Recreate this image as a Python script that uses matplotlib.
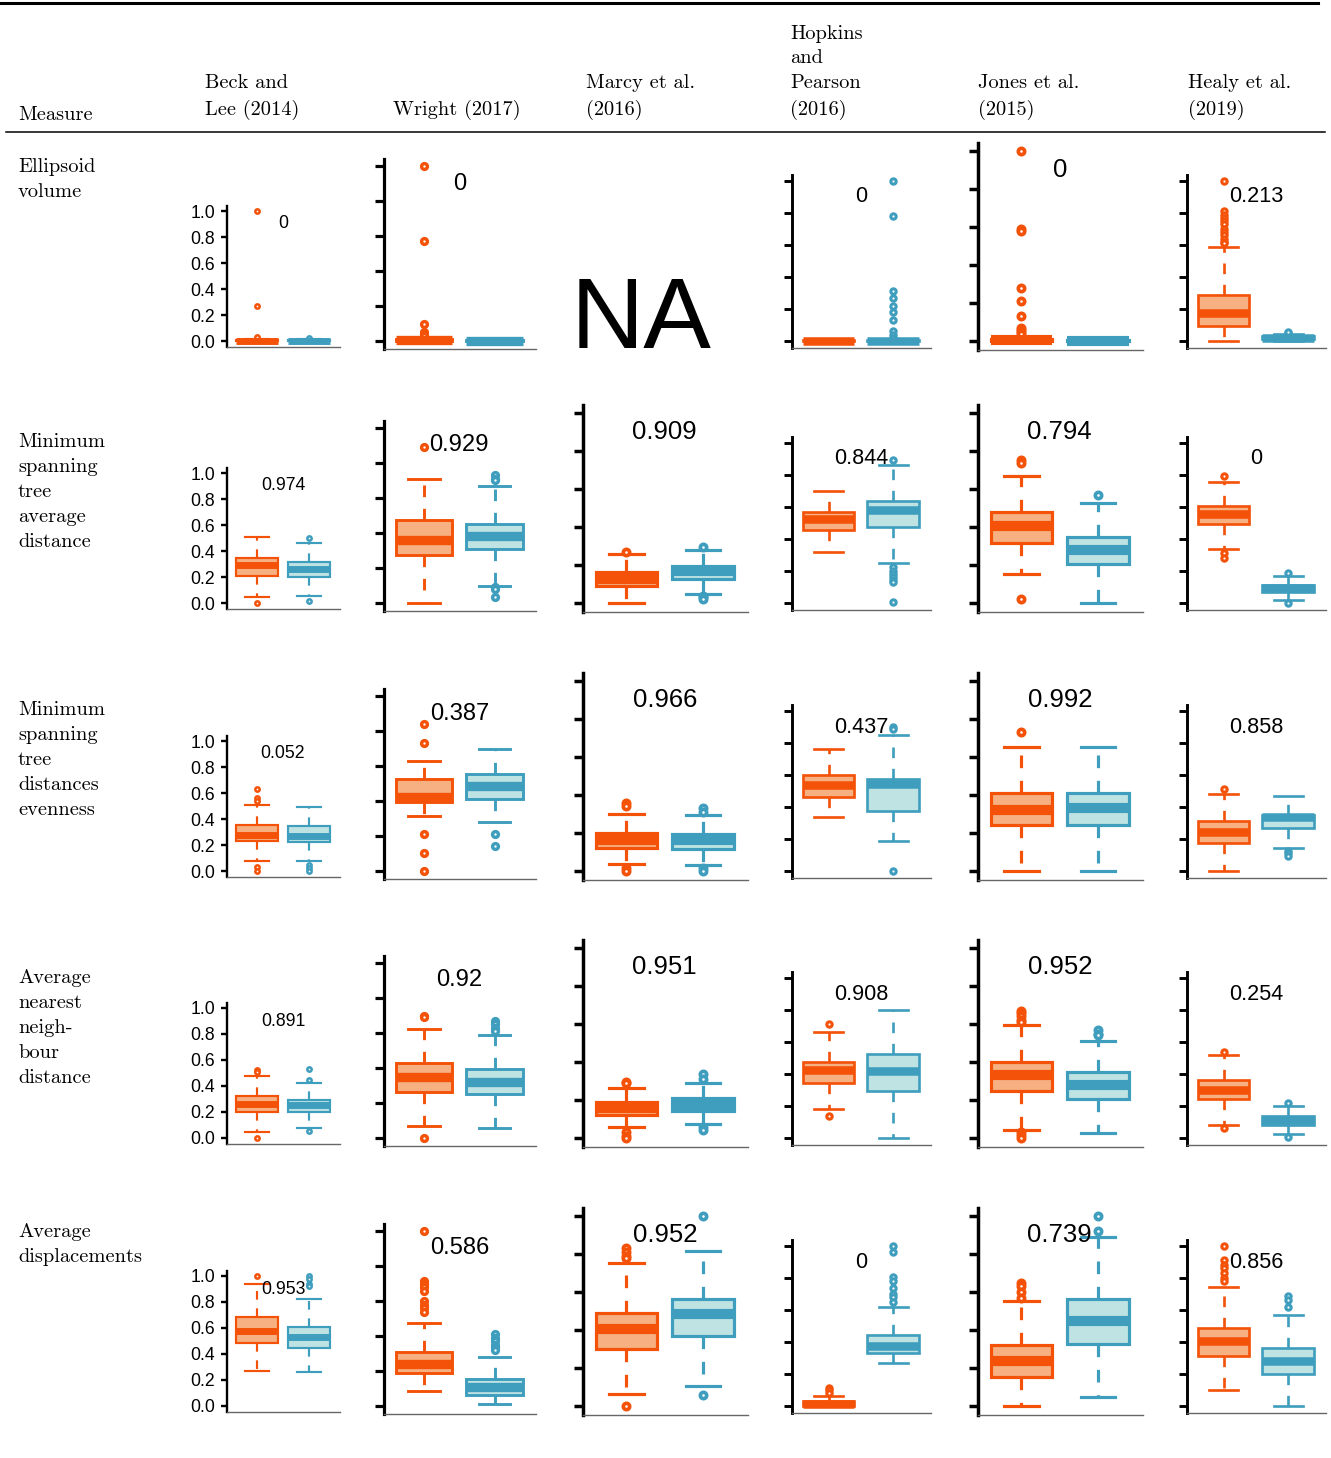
import matplotlib.pyplot as plt
from matplotlib.lines import Line2D
import numpy as np

# table headings
studies = ['Beck and\nLee (2014)', 'Wright (2017)', 'Marcy et al.\n(2016)',
           'Hopkins\nand\nPearson\n(2016)', 'Jones et al.\n(2015)', 'Healy et al.\n(2019)']
measures = ['Ellipsoid\nvolume',
            'Minimum\nspanning\ntree\naverage\ndistance',
            'Minimum\nspanning\ntree\ndistances\nevenness',
            'Average\nnearest\nneigh-\nbour\ndistance',
            'Average\ndisplacements']

# number printed in each cell (None = not available)
ellipsoid_score = [0, 0, None, 0, 0, 0.213]
mst_avg_score = [0.974, 0.929, 0.909, 0.844, 0.794, 0]
mst_even_score = [0.052, 0.387, 0.966, 0.437, 0.992, 0.858]
ann_score = [0.891, 0.92, 0.951, 0.908, 0.952, 0.254]
displ_score = [0.953, 0.586, 0.952, 0, 0.739, 0.856]

# box summaries: (low whisker, q1, median, q3, high whisker); _a = orange, _b = blue
ellipsoid_a = [(0.0, 0.0, 0.002, 0.008, 0.015), (0.0, 0.0, 0.003, 0.01, 0.02), None,
               (0.0, 0.0, 0.002, 0.005, 0.01), (0.0, 0.0, 0.003, 0.01, 0.02),
               (0.0, 0.095, 0.175, 0.29, 0.59)]
ellipsoid_b = [(0.0, 0.0, 0.002, 0.006, 0.012), (0.0, 0.0, 0.002, 0.006, 0.012), None,
               (0.0, 0.0, 0.002, 0.006, 0.012), (0.0, 0.0, 0.002, 0.006, 0.012),
               (0.0, 0.01, 0.02, 0.03, 0.045)]
ellipsoid_a_out = [[1.0, 0.27, 0.03], [1.0, 0.57, 0.10, 0.05, 0.04, 0.03], None, [],
                   [1.0, 0.59, 0.58, 0.28, 0.21, 0.13, 0.07, 0.06, 0.045, 0.035],
                   [1.0, 0.81, 0.79, 0.77, 0.75, 0.73, 0.70, 0.68, 0.66, 0.64, 0.62, 0.61]]
ellipsoid_b_out = [[0.02], [], None,
                   [1.0, 0.78, 0.31, 0.27, 0.22, 0.18, 0.13, 0.06, 0.04, 0.02],
                   [], [0.05, 0.055]]

mst_avg_a = [(0.046, 0.21, 0.29, 0.35, 0.508), (0.0, 0.272, 0.361, 0.472, 0.709),
             (0.0, 0.088, 0.124, 0.163, 0.257), (0.316, 0.459, 0.525, 0.568, 0.703),
             (0.151, 0.317, 0.405, 0.48, 0.669), (0.335, 0.493, 0.559, 0.609, 0.759)]
mst_avg_b = [(0.054, 0.20, 0.265, 0.313, 0.459), (0.097, 0.306, 0.382, 0.452, 0.669),
             (0.047, 0.128, 0.17, 0.196, 0.28), (0.247, 0.472, 0.58, 0.64, 0.865),
             (0.0, 0.203, 0.278, 0.349, 0.527), (0.019, 0.071, 0.091, 0.112, 0.166)]
mst_avg_a_out = [[0.0], [0.894], [0.27], [], [0.75, 0.737, 0.019], [0.792, 0.31, 0.279]]
mst_avg_b_out = [[0.497, 0.018], [0.73, 0.71, 0.70, 0.09, 0.082, 0.034],
                 [0.296, 0.035, 0.03, 0.02],
                 [0.896, 0.226, 0.2, 0.18, 0.16, 0.145, 0.133, 0.006], [0.571], [0.185, 0.0]]

mst_even_a = [(0.079, 0.231, 0.28, 0.354, 0.508), (0.313, 0.393, 0.421, 0.526, 0.626),
              (0.037, 0.119, 0.165, 0.202, 0.302), (0.335, 0.465, 0.54, 0.6, 0.7625),
              (0.0, 0.24, 0.323, 0.41, 0.653), (0.0, 0.175, 0.242, 0.31, 0.481)]
mst_even_b = [(0.079, 0.226, 0.272, 0.346, 0.495), (0.279, 0.412, 0.488, 0.556, 0.697),
              (0.033, 0.116, 0.165, 0.196, 0.293), (0.185, 0.377, 0.544, 0.575, 0.852),
              (0.0, 0.24, 0.33, 0.41, 0.653), (0.144, 0.267, 0.335, 0.352, 0.467)]
mst_even_a_out = [[0.628, 0.559, 0.538, 0.033, 0.0], [0.84, 0.73, 0.209, 0.104, 0.0],
                  [0.358, 0.341, 0.016, 0.0], [], [0.732], [0.5125]]
mst_even_b_out = [[0.046, 0.02, 0.0], [0.209, 0.142], [0.33, 0.31, 0.016, 0.002],
                  [0.9, 0.89, 0.0], [], [0.127, 0.11, 0.096]]

ann_a = [(0.046, 0.2, 0.26, 0.32, 0.477), (0.067, 0.262, 0.348, 0.428, 0.622),
         (0.058, 0.123, 0.158, 0.189, 0.264), (0.182, 0.344, 0.427, 0.478, 0.663),
         (0.042, 0.249, 0.33, 0.4, 0.595), (0.081, 0.244, 0.302, 0.364, 0.52)]
ann_b = [(0.077, 0.2, 0.256, 0.295, 0.423), (0.057, 0.249, 0.319, 0.392, 0.586),
         (0.074, 0.142, 0.175, 0.212, 0.29), (0.0, 0.292, 0.416, 0.524, 0.797),
         (0.026, 0.203, 0.28, 0.347, 0.511), (0.027, 0.079, 0.11, 0.137, 0.199)]
ann_a_out = [[0.526, 0.51, 0.0], [0.70, 0.69, 0.0], [0.294, 0.29, 0.03, 0.01, 0.0],
             [0.71, 0.137], [0.67, 0.66, 0.64, 0.62, 0.61, 0.03, 0.015, 0.0], [0.54, 0.064]]
ann_b_out = [[0.53, 0.444, 0.05], [0.67, 0.65, 0.63, 0.61], [0.338, 0.31, 0.058, 0.04],
             [], [0.566, 0.55, 0.54], [0.219, 0.006]]

displ_a = [(0.271, 0.488, 0.575, 0.683, 0.936), (0.083, 0.188, 0.241, 0.307, 0.472),
           (0.061, 0.298, 0.403, 0.487, 0.753), (0.0, 0.003, 0.015, 0.03, 0.062),
           (0.0, 0.152, 0.236, 0.32, 0.552), (0.1, 0.311, 0.405, 0.488, 0.741)]
displ_b = [(0.261, 0.45, 0.534, 0.604, 0.823), (0.009, 0.061, 0.108, 0.154, 0.279),
           (0.105, 0.368, 0.482, 0.564, 0.818), (0.266, 0.332, 0.373, 0.446, 0.62),
           (0.047, 0.324, 0.447, 0.564, 0.888), (0.0, 0.197, 0.28, 0.363, 0.571)]
displ_a_out = [[1.0], [1.0, 0.715, 0.70, 0.68, 0.66, 0.60, 0.575, 0.56, 0.535],
               [0.832, 0.81, 0.79, 0.78, 0.0], [0.114, 0.1, 0.083],
               [0.648, 0.63, 0.60, 0.57], [1.0, 0.913, 0.88, 0.86, 0.83, 0.80, 0.78]]
displ_b_out = [[1.0, 0.98, 0.94, 0.92], [0.41, 0.39, 0.37, 0.35, 0.34, 0.32],
               [1.0, 0.056], [1.0, 0.96, 0.809, 0.78, 0.74, 0.70, 0.68, 0.65],
               [1.0, 0.92], [0.685, 0.66, 0.62]]

rows = [(ellipsoid_a, ellipsoid_b, ellipsoid_a_out, ellipsoid_b_out, ellipsoid_score),
        (mst_avg_a, mst_avg_b, mst_avg_a_out, mst_avg_b_out, mst_avg_score),
        (mst_even_a, mst_even_b, mst_even_a_out, mst_even_b_out, mst_even_score),
        (ann_a, ann_b, ann_a_out, ann_b_out, ann_score),
        (displ_a, displ_b, displ_a_out, displ_b_out, displ_score)]

# layout in pixels
W, H = 1331, 1458
col_left = [227, 384, 583, 792, 978, 1187]
col_unit = [130, 175, 190, 160, 190, 160]     # pixels for 0 -> 1
row_zero = [341, 603, 871, 1138, 1406]
head_x = [205, 393, 586, 790, 978, 1188]
label_top = [158, 433, 701, 969, 1223]

orange, orange_fill = '#F45208', '#F6B081'
blue, blue_fill = '#3F9EBE', '#BFE3E3'
serif = 'cmr10'
sans = 'Liberation Sans'
spacing = 1.5

fig = plt.figure(figsize=(W / 100, H / 100), dpi=100)


def px(v):
    return v * 72 / 100


def draw_box(ax, summary, fliers, pos, edge, fill, u):
    lo, q1, med, q3, hi = summary
    stats = [dict(whislo=lo, q1=q1, med=med, q3=q3, whishi=hi, fliers=np.array(fliers))]
    lw = px(u / 60)
    ax.bxp(stats, positions=[pos], widths=0.8, capwidths=0.45, patch_artist=True,
           boxprops=dict(facecolor=fill, edgecolor=edge, linewidth=lw),
           medianprops=dict(color=edge, linewidth=lw * 3.2, solid_capstyle='butt'),
           whiskerprops=dict(color=edge, linewidth=lw, linestyle=(0, (4, 4))),
           capprops=dict(color=edge, linewidth=lw),
           flierprops=dict(marker='o', markerfacecolor='white', markeredgecolor=edge,
                           markersize=px(u / 30), markeredgewidth=px(u / 52)))


# header
fig.add_artist(Line2D([0, 1318 / W], [1 - 3 / H] * 2, color='black', lw=2.2,
                      transform=fig.transFigure))
fig.add_artist(Line2D([6 / W, 1325 / W], [1 - 132 / H] * 2, color='black', lw=1.1,
                      transform=fig.transFigure))
fig.text(18 / W, 1 - 124 / H, 'Measure', family=serif, fontsize=14.7, va='bottom')
for x, name in zip(head_x, studies):
    fig.text(x / W, 1 - 120 / H, name, family=serif, fontsize=14.7, va='bottom',
             linespacing=spacing)

for r, (box_a, box_b, out_a, out_b, scores) in enumerate(rows):
    fig.text(18 / W, 1 - label_top[r] / H, measures[r], family=serif, fontsize=14.7,
             va='top', linespacing=spacing)
    y0 = row_zero[r]
    for c in range(6):
        u = col_unit[c]
        if box_a[c] is None:
            fig.text(641 / W, 1 - (y0 + 7) / H, 'NA', family=sans, fontsize=73,
                     ha='center', va='baseline')
            continue
        ax = fig.add_axes([col_left[c] / W, 1 - (y0 + 0.045 * u) / H,
                           0.866 * u / W, 1.085 * u / H])
        draw_box(ax, box_a[c], out_a[c], 1, orange, orange_fill, u)
        draw_box(ax, box_b[c], out_b[c], 2, blue, blue_fill, u)
        ax.set_xlim(0.433, 2.58)
        ax.set_ylim(-0.045, 1.04)
        ax.set_xticks([])
        ax.set_yticks(np.arange(0, 1.01, 0.2))
        lw = px(u / 55)
        ax.tick_params(axis='y', direction='out', length=px(u * 0.05), width=lw, pad=4,
                       labelsize=12.7)
        if c == 0:
            ax.set_yticklabels(['0.0', '0.2', '0.4', '0.6', '0.8', '1.0'], family=sans)
        else:
            ax.tick_params(axis='y', labelleft=False)
        ax.spines['top'].set_visible(False)
        ax.spines['right'].set_visible(False)
        ax.spines['left'].set_linewidth(lw)
        ax.spines['bottom'].set_linewidth(1.0)
        ax.spines['bottom'].set_color('#666666')
        ax.patch.set_alpha(0)
        ax.text(1.5, 0.9, f'{scores[c]:g}', ha='center', va='center', family=sans,
                fontsize=u * 0.0975)

fig.savefig('out.png', dpi=100)
